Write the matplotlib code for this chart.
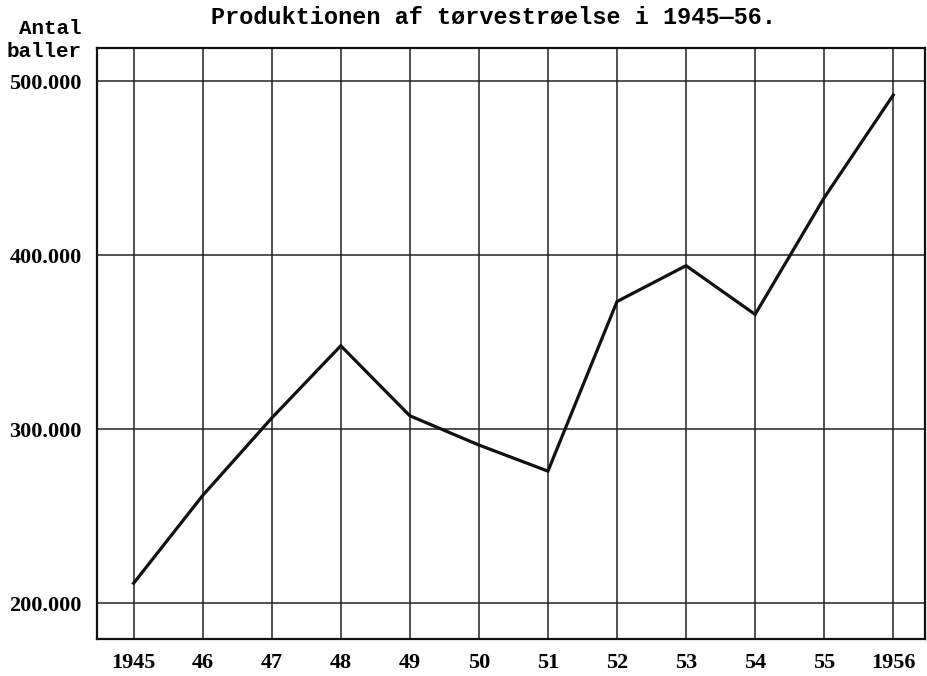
import matplotlib
matplotlib.use("Agg")
import matplotlib.pyplot as plt

# Production of peat litter 1945-56
years = [1945, 1946, 1947, 1948, 1949, 1950, 1951, 1952, 1953, 1954, 1955, 1956]
bales = [211600, 262000, 306500, 348000, 307800, 291000, 276000,
         373400, 394000, 366000, 433000, 492000]
xlabels = ["1945", "46", "47", "48", "49", "50", "51", "52", "53", "54", "55", "1956"]
yticks = [200000, 300000, 400000, 500000]
ylabels = ["200.000", "300.000", "400.000", "500.000"]

fig = plt.figure(figsize=(9.28, 6.76), dpi=100)
ax = fig.add_axes([97 / 928, 1 - 639 / 676, 828 / 928, 591 / 676])

ax.plot(years, bales, color="#111111", lw=2.3, solid_joinstyle="miter", zorder=3)

ax.set_xlim(1944.47, 1956.46)
ax.set_ylim(179600, 519000)
ax.set_xticks(years)
ax.set_xticklabels(xlabels)
ax.set_yticks(yticks)
ax.set_yticklabels(ylabels)
ax.grid(True, color="#222222", lw=1.1)
ax.tick_params(length=0, labelsize=16)
ax.tick_params(axis="y", pad=11)
ax.tick_params(axis="x", pad=10)
for lab in ax.get_xticklabels() + ax.get_yticklabels():
    lab.set_family("Liberation Serif")
    lab.set_fontweight("bold")
for s in ax.spines.values():
    s.set_linewidth(1.6)
    s.set_color("#111111")

fig.text(82 / 928, 1 - 19 / 676, "Antal\nballer", ha="right", va="top",
         family="Liberation Mono", fontweight="bold", fontsize=15, linespacing=1.25)
fig.text(494 / 928, 1 - 17 / 676, "Produktionen af tørvestrøelse i 1945—56.",
         ha="center", va="center", family="Liberation Mono", fontweight="bold", fontsize=16.9)

fig.savefig("out.png", dpi=100)
